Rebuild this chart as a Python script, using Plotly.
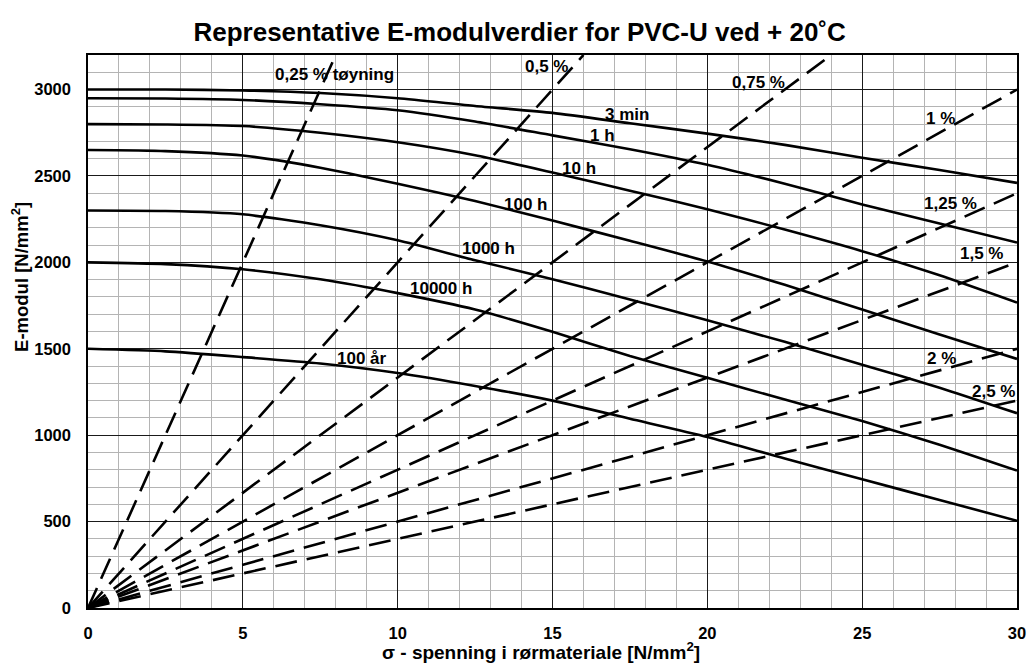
import numpy as np
import plotly.graph_objects as go

# Stress values (N/mm²) at which the creep-modulus curves are tabulated
sigma_pts = [0, 2.5, 5, 7.5, 10, 12.5, 15, 17.5, 20, 22.5, 25, 27.5, 30]

# E-modulus (N/mm²) versus stress for each load duration
curve_names = ["3 min", "1 h", "10 h", "100 h", "1000 h", "10000 h", "100 år"]
e_3min = [3000, 3000, 2995, 2980, 2950, 2905, 2865, 2805, 2745, 2680, 2605, 2535, 2460]
e_1h = [2950, 2948, 2940, 2915, 2880, 2815, 2735, 2655, 2565, 2455, 2335, 2225, 2115]
e_10h = [2800, 2798, 2789, 2750, 2695, 2620, 2520, 2415, 2308, 2190, 2065, 1925, 1767]
e_100h = [2650, 2644, 2618, 2548, 2455, 2355, 2242, 2125, 2005, 1870, 1727, 1583, 1441]
e_1000h = [2300, 2297, 2278, 2215, 2128, 2012, 1903, 1785, 1665, 1540, 1408, 1275, 1127]
e_10000h = [2000, 1990, 1960, 1902, 1822, 1727, 1598, 1458, 1332, 1206, 1082, 945, 795]
e_100ar = [1500, 1485, 1452, 1415, 1360, 1285, 1200, 1095, 990, 865, 745, 625, 505]
curves = [e_3min, e_1h, e_10h, e_100h, e_1000h, e_10000h, e_100ar]

# Label positions for the duration curves (stress, modulus)
curve_label_x = [17.4, 16.6, 15.85, 14.13, 12.94, 11.4, 8.85]
curve_label_y = [2857, 2733, 2544, 2336, 2078, 1846, 1441]

# Constant-strain lines (strain in %): E = sigma / strain
strains = [0.25, 0.5, 0.75, 1.0, 1.25, 1.5, 2.0, 2.5]
strain_labels = ["0,25 % tøyning", "0,5 %", "0,75 %", "1 %", "1,25 %", "1,5 %", "2 %", "2,5 %"]
strain_label_x = [7.97, 14.81, 21.65, 27.53, 27.86, 28.86, 27.57, 29.24]
strain_label_y = [3085, 3133, 3040, 2834, 2342, 2049, 1441, 1252]

X_MAX = 30
Y_MAX = 3200
FONT = "Liberation Sans, Arial, sans-serif"
BOLD = dict(family=FONT, color="black", weight="bold")

fig = go.Figure()

# Dashed strain lines from the origin
for eps in strains:
    s_end = min(X_MAX, Y_MAX * eps / 100.0)
    s = np.array([0.0, s_end])
    fig.add_trace(go.Scatter(
        x=s, y=s / (eps / 100.0), mode="lines",
        line=dict(color="black", width=2.6, dash="22px,10px"),
        hoverinfo="skip",
    ))

# Solid E-modulus curves
for name, vals in zip(curve_names, curves):
    fig.add_trace(go.Scatter(
        x=sigma_pts, y=vals, mode="lines", name=name,
        line=dict(color="black", width=2.6, shape="spline", smoothing=0.6),
    ))

annotations = []
for txt, ax, ay in zip(curve_names, curve_label_x, curve_label_y):
    annotations.append(dict(x=ax, y=ay, xref="x", yref="y", text=txt, showarrow=False,
                            font=dict(BOLD, size=17)))
for txt, ax, ay in zip(strain_labels, strain_label_x, strain_label_y):
    annotations.append(dict(x=ax, y=ay, xref="x", yref="y", text=txt, showarrow=False,
                            font=dict(BOLD, size=17)))

# Axis titles
annotations.append(dict(x=-0.073, y=0.599, xref="paper", yref="paper",
                        xanchor="center", yanchor="middle", textangle=-90,
                        text="E-modul [N/mm<sup>2</sup>]", showarrow=False,
                        font=dict(BOLD, size=18.5)))
annotations.append(dict(x=0.4876, y=-0.078, xref="paper", yref="paper",
                        xanchor="center", yanchor="middle",
                        text="σ - spenning i rørmateriale [N/mm<sup>2</sup>]", showarrow=False,
                        font=dict(BOLD, size=19)))

fig.update_layout(
    width=1029, height=665,
    margin=dict(l=88, r=12, t=55, b=57, autoexpand=False),
    paper_bgcolor="white", plot_bgcolor="white",
    showlegend=False,
    title=dict(text="Representative E-modulverdier for PVC-U ved + 20˚C",
               x=0.505, xanchor="center", xref="container",
               y=0.952, yanchor="middle", yref="container",
               font=dict(BOLD, size=26)),
    annotations=annotations,
)

fig.update_xaxes(
    range=[0, X_MAX], dtick=5, tick0=0, automargin=False,
    showgrid=True, gridcolor="#1a1a1a", gridwidth=1,
    minor=dict(dtick=1, showgrid=True, gridcolor="#b4b4b4", gridwidth=1),
    showline=True, linecolor="black", linewidth=1.5, mirror=True,
    ticks="outside", ticklen=9, tickcolor="rgba(0,0,0,0)",
    tickfont=dict(BOLD, size=16.5),
    zeroline=False,
)
fig.update_yaxes(
    range=[0, Y_MAX], dtick=500, tick0=0, automargin=False,
    showgrid=True, gridcolor="#1a1a1a", gridwidth=1,
    minor=dict(dtick=100, showgrid=True, gridcolor="#b4b4b4", gridwidth=1),
    showline=True, linecolor="black", linewidth=1.5, mirror=True,
    ticks="outside", ticklen=12, tickcolor="rgba(0,0,0,0)",
    tickfont=dict(BOLD, size=16.5),
    zeroline=False,
)

fig.write_html("out.html")
